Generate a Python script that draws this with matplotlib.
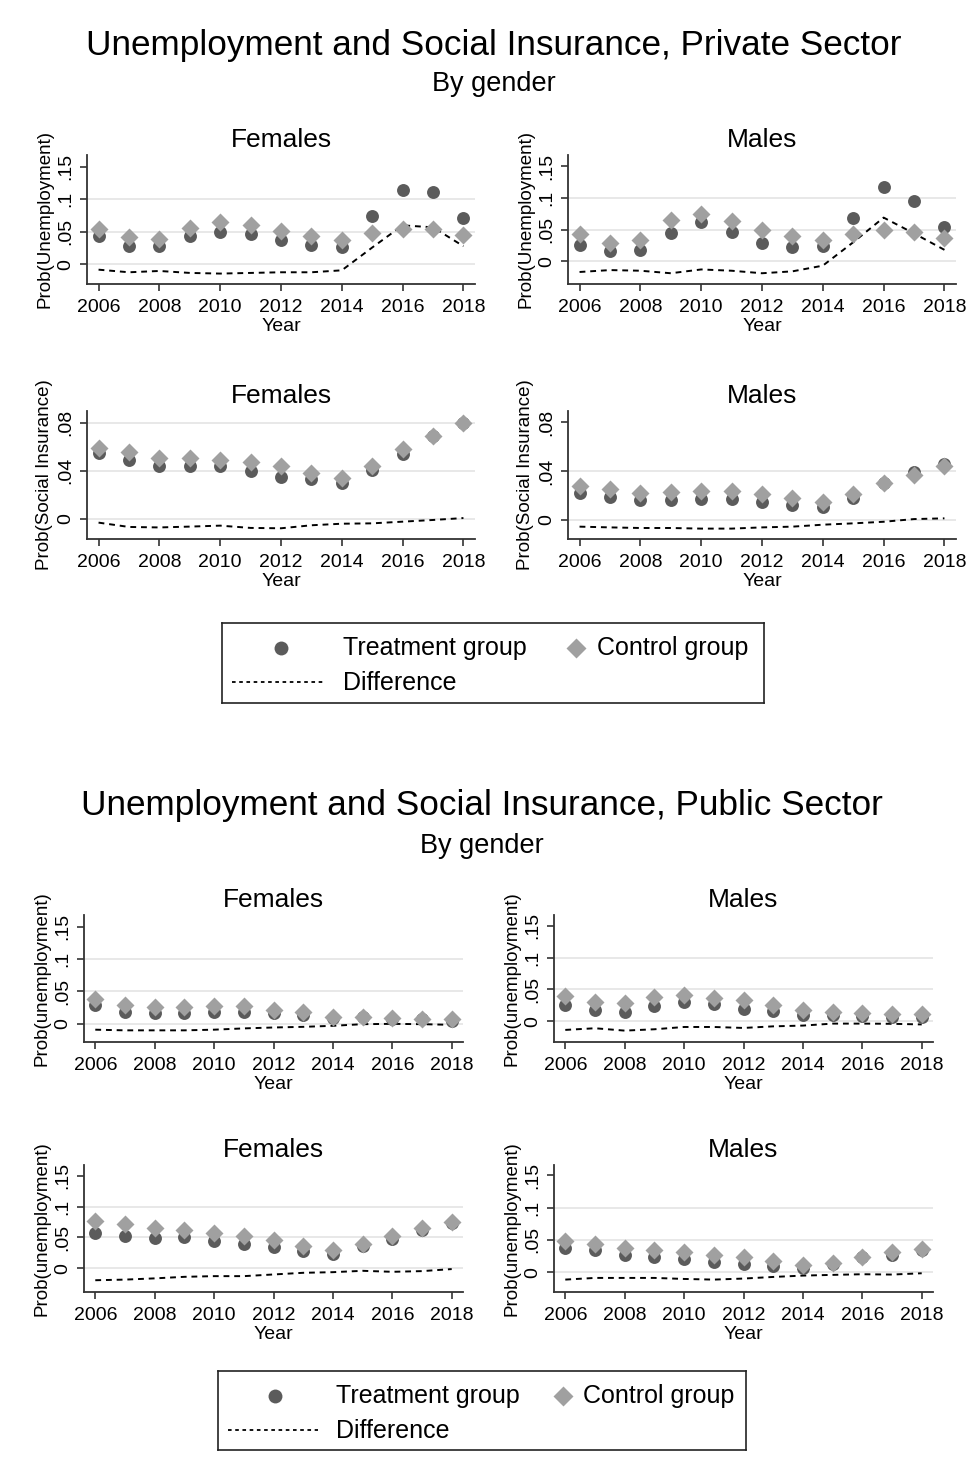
import numpy as np
import matplotlib.pyplot as plt

plt.rcParams['font.family'] = ['Liberation Sans', 'DejaVu Sans']

years = np.arange(2006, 2019)

# private sector, unemployment
priv_unemp_f_treat = [0.044, 0.029, 0.028, 0.044, 0.050, 0.047, 0.037, 0.030, 0.027, 0.074, 0.115, 0.111, 0.072]
priv_unemp_f_ctrl = [0.054, 0.042, 0.039, 0.056, 0.065, 0.060, 0.051, 0.043, 0.037, 0.048, 0.055, 0.054, 0.045]
priv_unemp_f_diff = [-0.008, -0.012, -0.010, -0.013, -0.014, -0.013, -0.012, -0.012, -0.009, 0.026, 0.060, 0.057, 0.028]
priv_unemp_m_treat = [0.026, 0.016, 0.017, 0.045, 0.062, 0.047, 0.029, 0.023, 0.024, 0.069, 0.118, 0.095, 0.054]
priv_unemp_m_ctrl = [0.043, 0.029, 0.033, 0.065, 0.075, 0.064, 0.049, 0.040, 0.034, 0.043, 0.050, 0.047, 0.036]
priv_unemp_m_diff = [-0.017, -0.014, -0.015, -0.019, -0.013, -0.015, -0.019, -0.016, -0.007, 0.030, 0.069, 0.044, 0.018]

# private sector, social insurance
priv_si_f_treat = [0.055, 0.049, 0.044, 0.044, 0.044, 0.040, 0.035, 0.033, 0.030, 0.041, 0.054, 0.069, 0.080]
priv_si_f_ctrl = [0.059, 0.056, 0.051, 0.051, 0.049, 0.047, 0.044, 0.038, 0.034, 0.044, 0.058, 0.069, 0.080]
priv_si_f_diff = [-0.003, -0.0066, -0.007, -0.0063, -0.0055, -0.0074, -0.0077, -0.0052, -0.0039, -0.0036, -0.0022, -0.0008, 0.0008]
priv_si_m_treat = [0.0225, 0.019, 0.016, 0.016, 0.017, 0.017, 0.015, 0.012, 0.011, 0.018, 0.030, 0.039, 0.0455]
priv_si_m_ctrl = [0.028, 0.0255, 0.0225, 0.023, 0.024, 0.024, 0.021, 0.018, 0.015, 0.021, 0.030, 0.037, 0.0445]
priv_si_m_diff = [-0.0054, -0.006, -0.0065, -0.0065, -0.007, -0.007, -0.006, -0.0054, -0.0038, -0.0027, -0.0014, 0.0008, 0.0014]

# public sector, first row
pub1_f_treat = [0.029, 0.018, 0.016, 0.016, 0.018, 0.019, 0.017, 0.013, 0.0087, 0.010, 0.008, 0.007, 0.005]
pub1_f_ctrl = [0.038, 0.029, 0.026, 0.026, 0.027, 0.027, 0.022, 0.018, 0.011, 0.010, 0.009, 0.008, 0.007]
pub1_f_diff = [-0.009, -0.010, -0.010, -0.010, -0.009, -0.007, -0.0056, -0.0046, -0.003, -0.0005, 0.0, -0.0005, -0.0015]
pub1_m_treat = [0.026, 0.018, 0.014, 0.024, 0.031, 0.027, 0.020, 0.016, 0.0094, 0.010, 0.008, 0.007, 0.006]
pub1_m_ctrl = [0.040, 0.031, 0.029, 0.038, 0.041, 0.037, 0.033, 0.025, 0.018, 0.014, 0.013, 0.0115, 0.011]
pub1_m_diff = [-0.0136, -0.011, -0.0147, -0.0126, -0.009, -0.009, -0.0105, -0.008, -0.0068, -0.0037, -0.0037, -0.004, -0.005]

# public sector, second row
pub2_f_treat = [0.058, 0.053, 0.049, 0.050, 0.045, 0.039, 0.035, 0.028, 0.023, 0.036, 0.047, 0.062, 0.074]
pub2_f_ctrl = [0.077, 0.071, 0.065, 0.062, 0.058, 0.052, 0.046, 0.036, 0.029, 0.040, 0.052, 0.066, 0.075]
pub2_f_diff = [-0.019, -0.018, -0.016, -0.0135, -0.0124, -0.0124, -0.0097, -0.007, -0.006, -0.0038, -0.0054, -0.0043, -0.001]
pub2_m_treat = [0.037, 0.034, 0.027, 0.024, 0.021, 0.0155, 0.012, 0.009, 0.006, 0.013, 0.023, 0.027, 0.035]
pub2_m_ctrl = [0.049, 0.044, 0.037, 0.034, 0.032, 0.027, 0.023, 0.018, 0.011, 0.015, 0.024, 0.032, 0.036]
pub2_m_diff = [-0.0114, -0.0088, -0.0088, -0.0088, -0.0104, -0.0114, -0.0098, -0.0073, -0.0052, -0.0041, -0.0031, -0.0036, -0.0016]

W, H = 968, 1470
fig = plt.figure(figsize=(W / 100, H / 100), dpi=100)

TREAT = '#5b5b5b'
CTRL = '#a0a0a0'
SPINE = '#333333'


def box(l, t, r, b):
    return [l / W, 1 - b / H, (r - l) / W, (b - t) / H]


def panel(rect, title, ylabel, treat, ctrl, diff, ylim, yticks, ylabels, grid):
    ax = fig.add_axes(box(*rect))
    for g in grid:
        ax.axhline(g, color='#e6e6e6', lw=1.3, zorder=0)
    ax.plot(years, diff, color='black', ls=(0, (3, 2.5)), lw=1.4, zorder=2)
    ax.plot(years, treat, 'o', color=TREAT, ms=9.3, mec='none', zorder=3)
    ax.plot(years, ctrl, 'D', color=CTRL, ms=9.5, mec='none', zorder=4)
    ax.set_xlim(2005.62, 2018.38)
    ax.set_ylim(*ylim)
    ax.set_xticks(range(2006, 2019, 2))
    ax.set_yticks(yticks)
    ax.set_yticklabels(ylabels, rotation=90, va='center')
    ax.tick_params(labelsize=14, length=5, width=1.2, color=SPINE, pad=6)
    ax.tick_params(axis='y', pad=4)
    ax.set_xlabel('Year', fontsize=14, labelpad=1.5)
    ax.set_ylabel(ylabel, fontsize=13.5, labelpad=3)
    ax.set_title(title, fontsize=19, pad=6)
    for s in ['top', 'right']:
        ax.spines[s].set_visible(False)
    for s in ['left', 'bottom']:
        ax.spines[s].set_color(SPINE)
        ax.spines[s].set_linewidth(1.3)
    return ax


u_ticks = [0, 0.05, 0.1, 0.15]
u_labels = ['0', '.05', '.1', '.15']
s_ticks = [0, 0.04, 0.08]
s_labels = ['0', '.04', '.08']
u_grid = [0, 0.05, 0.1]

panel((87, 155, 475, 284), 'Females', 'Prob(Unemployment)', priv_unemp_f_treat, priv_unemp_f_ctrl,
      priv_unemp_f_diff, (-0.030, 0.168), u_ticks, u_labels, u_grid)
panel((568, 155, 956, 284), 'Males', 'Prob(Unemployment)', priv_unemp_m_treat, priv_unemp_m_ctrl,
      priv_unemp_m_diff, (-0.036, 0.168), u_ticks, u_labels, u_grid)
panel((87, 411, 475, 539), 'Females', 'Prob(Social Insurance)', priv_si_f_treat, priv_si_f_ctrl,
      priv_si_f_diff, (-0.0166, 0.0897), s_ticks, s_labels, [0, 0.04, 0.08])
panel((568, 411, 956, 539), 'Males', 'Prob(Social Insurance)', priv_si_m_treat, priv_si_m_ctrl,
      priv_si_m_diff, (-0.0155, 0.0892), s_ticks, s_labels, [0, 0.04])

panel((84, 915, 463, 1042), 'Females', 'Prob(unemployment)', pub1_f_treat, pub1_f_ctrl,
      pub1_f_diff, (-0.028, 0.168), u_ticks, u_labels, u_grid)
panel((554, 915, 933, 1042), 'Males', 'Prob(unemployment)', pub1_m_treat, pub1_m_ctrl,
      pub1_m_diff, (-0.0326, 0.167), u_ticks, u_labels, u_grid)
panel((84, 1165, 463, 1292), 'Females', 'Prob(unemployment)', pub2_f_treat, pub2_f_ctrl,
      pub2_f_diff, (-0.038, 0.167), u_ticks, u_labels, u_grid)
panel((554, 1165, 933, 1292), 'Males', 'Prob(unemployment)', pub2_m_treat, pub2_m_ctrl,
      pub2_m_diff, (-0.0306, 0.166), u_ticks, u_labels, u_grid)

# headings
fig.text(494 / W, 1 - 45 / H, 'Unemployment and Social Insurance, Private Sector', fontsize=25.3, ha='center', va='center')
fig.text(494 / W, 1 - 84 / H, 'By gender', fontsize=19.5, ha='center', va='center')
fig.text(482 / W, 1 - 806 / H, 'Unemployment and Social Insurance, Public Sector', fontsize=25.3, ha='center', va='center')
fig.text(482 / W, 1 - 846 / H, 'By gender', fontsize=19.5, ha='center', va='center')


def legend_box(l, t, r, b):
    lax = fig.add_axes(box(l, t, r, b))
    k = (r - l) / 542
    lax.set_xlim(0, r - l)
    lax.set_ylim(b - t, 0)
    lax.set_xticks([])
    lax.set_yticks([])
    for s in lax.spines.values():
        s.set_color('#222222')
        s.set_linewidth(1.2)
    lax.plot([59 * k], [25], 'o', color=TREAT, ms=10, mec='none')
    lax.text(121 * k, 25, 'Treatment group', fontsize=18, va='center')
    lax.plot([354 * k], [25], 'D', color=CTRL, ms=10, mec='none')
    lax.text(375 * k, 25, 'Control group', fontsize=18, va='center')
    lax.plot([10 * k, 103 * k], [59, 59], color='black', ls=(0, (2, 2)), lw=1.3)
    lax.text(121 * k, 60, 'Difference', fontsize=18, va='center')


legend_box(222, 623, 764, 703)
legend_box(218, 1371, 746, 1450)

fig.savefig('out.png', dpi=100)
